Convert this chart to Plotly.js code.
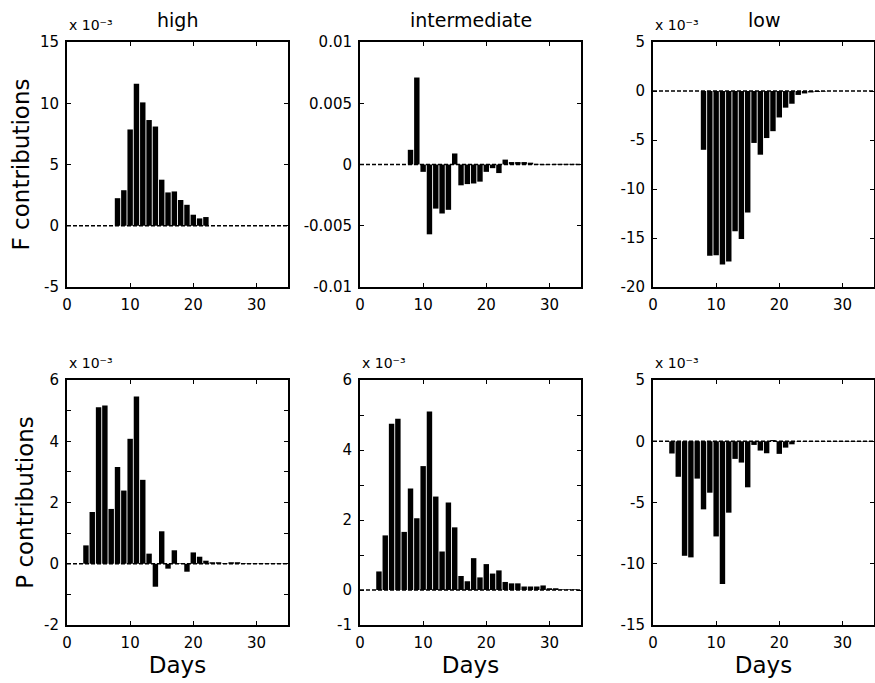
<!DOCTYPE html>
<html>
<head>
<meta charset="utf-8">
<script src="https://cdn.plot.ly/plotly-3.0.1.min.js"></script>
<style>html,body{margin:0;padding:0;background:#fff;}#chart{width:875px;height:683px;}</style>
</head>
<body>
<div id="chart"></div>
<script>
// ---- data (values shown in units of 10^-3 except the intermediate F panel) ----
const days = [1,2,3,4,5,6,7,8,9,10,11,12,13,14,15,16,17,18,19,20,21,22,23,24,25,26,27,28,29,30,31,32,33,34];

const fHigh = [0,0,0,0,0,0,0,2.25,2.9,7.86,11.6,10.07,8.63,8.1,3.76,2.72,2.8,2.1,1.71,0.9,0.6,0.71,0,0,0,0,0,0,0,0,0,0,0,0];
const fInter = [0,0,0,0,0,0,0,0.0012,0.0071,-0.0006,-0.0057,-0.0036,-0.0040,-0.0037,0.0009,-0.0017,-0.0016,-0.00155,-0.0014,-0.0006,-0.0003,-0.0007,0.0004,0.0002,0.0002,0.0002,0.00015,0.00005,-0.00005,0.00002,0.00005,0.00005,0.00005,0.00005];
const fLow = [0,0,0,0,0,0,0,-6.0,-16.8,-16.75,-17.7,-17.4,-14.3,-15.1,-12.4,-5.3,-6.5,-4.8,-4.1,-2.7,-1.7,-1.3,-0.4,-0.25,-0.15,-0.1,-0.05,0,0,0,0,0,0,0];

const pHigh = [0,0,0.6,1.69,5.11,5.17,1.79,3.16,2.39,4.08,5.46,2.74,0.33,-0.75,1.06,-0.16,0.44,0.02,-0.26,0.37,0.23,0.1,0.05,0.05,0.02,0.05,0.05,0.02,0.01,0.01,0.01,0.01,0.01,0.01];
const pInter = [0,0,0.53,1.56,4.75,4.89,1.66,2.9,2.05,3.54,5.1,2.67,1.1,2.5,1.79,0.4,0.25,0.91,0.36,0.74,0.47,0.56,0.23,0.19,0.19,0.1,0.1,0.1,0.13,0.05,0.05,0.02,0.02,0.02];
const pLow = [0,0,-1.0,-2.9,-9.35,-9.48,-3.05,-5.56,-4.2,-7.77,-11.66,-5.83,-1.44,-1.74,-3.76,-0.3,-0.76,-0.98,0.1,-1.03,-0.52,-0.25,-0.03,-0.03,-0.03,-0.03,-0.03,-0.03,-0.03,-0.03,-0.03,-0.03,-0.03,-0.03];

const columnTitles = ['high','intermediate','low'];
const rowTitles = ['F contributions','P contributions'];
const xTitle = 'Days';
const scaleLabel = 'x 10\u207B\u00B3';
const xTicks = [0,10,20,30];

const yTicks = [
  {vals:[-5,0,5,10,15], text:['-5','0','5','10','15'], range:[-5,15], minor:null},
  {vals:[-0.01,-0.005,0,0.005,0.01], text:['-0.01','-0.005','0','0.005','0.01'], range:[-0.01,0.01], minor:null},
  {vals:[-20,-15,-10,-5,0,5], text:['-20','-15','-10','-5','0','5'], range:[-20,5], minor:null},
  {vals:[-2,0,2,4,6], text:['-2','0','2','4','6'], range:[-2,6], minor:1},
  {vals:[-1,0,2,4,6], text:['-1','0','2','4','6'], range:[-1,6], minor:1},
  {vals:[-15,-10,-5,0,5], text:['-15','-10','-5','0','5'], range:[-15,5], minor:null}
];
const series = [fHigh, fInter, fLow, pHigh, pInter, pLow];
const scaled = [true, false, true, true, true, true];

// ---- layout geometry ----
const W = 875, H = 683;
const colLeft = [67, 360, 653], plotW = 221;
const rowTop = [42, 380], plotH = 245;
const FONT = 'DejaVu Sans, Liberation Sans, Arial, sans-serif';

const data = [];
const layout = {
  width: W, height: H,
  margin: {l:0, r:0, t:0, b:0},
  paper_bgcolor: '#fff', plot_bgcolor: '#fff',
  showlegend: false,
  font: {family: FONT, color: '#000', size: 15},
  annotations: [], shapes: []
};

for (let i = 0; i < 6; i++) {
  const r = Math.floor(i / 3), c = i % 3, n = i + 1;
  const xs = n === 1 ? '' : String(n);
  const xd = [colLeft[c] / W, (colLeft[c] + plotW) / W];
  const yd = [1 - (rowTop[r] + plotH) / H, 1 - rowTop[r] / H];
  data.push({
    type: 'bar', x: days, y: series[i],
    xaxis: 'x' + xs, yaxis: 'y' + xs,
    width: 0.86,
    marker: {color: '#000', line: {width: 0}},
    hoverinfo: 'x+y'
  });
  const axCommon = {
    showline: true, linecolor: '#000', linewidth: 2, mirror: 'allticks',
    ticks: 'inside', ticklen: 4, tickwidth: 1, tickcolor: '#000',
    showgrid: false, zeroline: false, fixedrange: true,
    tickfont: {family: FONT, size: 15, color: '#000'}
  };
  const xax = Object.assign({}, axCommon, {
    domain: xd, anchor: 'y' + xs, range: [0, 35],
    tickmode: 'array', tickvals: xTicks, ticktext: xTicks.map(String),
    ticklabelstandoff: 3
  });
  if (r === 1) xax.title = {text: xTitle, font: {family: FONT, size: 23, color: '#000'}, standoff: 4};
  layout['xaxis' + xs] = xax;
  const yax = Object.assign({}, axCommon, {
    domain: yd, anchor: 'x' + xs, range: yTicks[i].range,
    tickmode: 'array', tickvals: yTicks[i].vals, ticktext: yTicks[i].text,
    ticklabelstandoff: 3
  });
  if (c === 0) yax.title = {text: rowTitles[r], font: {family: FONT, size: 23, color: '#000'}, standoff: 4};
  if (yTicks[i].minor) {
    yax.minor = {dtick: yTicks[i].minor, tick0: 0, ticks: 'inside', ticklen: 4, tickwidth: 1, tickcolor: '#000', showgrid: false};
  }
  layout['yaxis' + xs] = yax;
  layout.shapes.push({
    type: 'line', xref: 'x' + xs + ' domain', yref: 'y' + xs,
    x0: 0, x1: 1, y0: 0, y1: 0,
    line: {color: '#000', width: 1.5, dash: '4px,2px'}, layer: 'above'
  });
  if (scaled[i]) {
    layout.annotations.push({
      xref: 'paper', yref: 'paper', x: xd[0], y: yd[1], xanchor: 'left', yanchor: 'bottom',
      yshift: 7, showarrow: false,
      text: scaleLabel, font: {family: FONT, size: 14, color: '#000'}
    });
  }
  if (r === 0) {
    layout.annotations.push({
      xref: 'paper', yref: 'paper', x: (xd[0] + xd[1]) / 2, y: yd[1], xanchor: 'center', yanchor: 'bottom',
      yshift: 9, showarrow: false,
      text: columnTitles[c], font: {family: FONT, size: 19, color: '#000'}
    });
  }
}

Plotly.newPlot('chart', data, layout, {displayModeBar: false, staticPlot: true});
</script>
</body>
</html>
